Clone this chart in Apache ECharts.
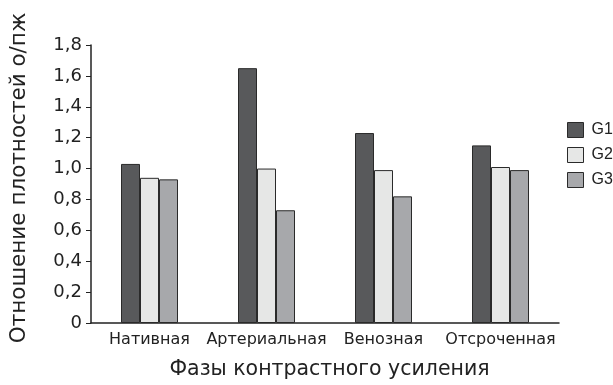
<!DOCTYPE html>
<html><head><meta charset="utf-8">
<script src="https://cdn.jsdelivr.net/npm/echarts@6/dist/echarts.min.js"></script>
<style>html,body{margin:0;padding:0;background:#fff}#c{width:613px;height:385px}</style>
</head><body><div id="c"></div>
<script>
const categories = ['Нативная', 'Артериальная', 'Венозная', 'Отсроченная'];
const g1 = [1.03, 1.65, 1.23, 1.15];
const g2 = [0.94, 1.00, 0.99, 1.01];
const g3 = [0.93, 0.73, 0.82, 0.99];
const seriesNames = ['G1', 'G2', 'G3'];
const yTicks = [0, 0.2, 0.4, 0.6, 0.8, 1.0, 1.2, 1.4, 1.6, 1.8];
const colors = ['#58595b', '#e6e7e6', '#a7a8ab'];
const font = 'DejaVu Sans, sans-serif';
const font2 = 'Liberation Sans, Arial, sans-serif';

const chart = echarts.init(document.getElementById('c'));
const mk = (name, data, i) => ({
  name, type: 'bar', data, barWidth: 19, barGap: '0%',
  itemStyle: { color: colors[i], borderColor: '#2a2a2a', borderWidth: 1 }
});
chart.setOption({
  animation: false,
  textStyle: { fontFamily: font },
  grid: { left: 91, right: 54, top: 45, bottom: 59 },
  legend: {
    orient: 'vertical', left: 562, top: 117, itemWidth: 16, itemHeight: 15, itemGap: 9,
    icon: 'rect', data: seriesNames,
    textStyle: { fontSize: 16, color: '#222', fontFamily: font2, padding: [0, 0, 0, 3] },
    itemStyle: { borderColor: '#2a2a2a', borderWidth: 1 }
  },
  graphic: [{
    type: 'text', x: 19, y: 178, rotation: Math.PI / 2,
    style: {
      text: 'Отношение плотностей о/пж', fontSize: 21.5, fontFamily: font, fill: '#222',
      align: 'center', verticalAlign: 'middle'
    }
  }],
  xAxis: {
    type: 'category', data: categories,
    name: 'Фазы контрастного усиления', nameLocation: 'middle', nameGap: 36,
    nameTextStyle: { fontSize: 20.5, color: '#222', fontFamily: font, padding: [0, 0, 0, 9] },
    axisLine: { lineStyle: { color: '#222', width: 1.5 } },
    axisTick: { show: false },
    axisLabel: { fontSize: 16, color: '#222', margin: 9, interval: 0, fontFamily: font }
  },
  yAxis: {
    type: 'value', min: 0, max: 1.8, interval: 0.2,
    axisLine: { show: true, lineStyle: { color: '#222', width: 1.5 } },
    axisTick: { show: true, length: 5, lineStyle: { color: '#222' } },
    splitLine: { show: false },
    axisLabel: {
      fontSize: 18, color: '#222', margin: 9, fontFamily: font,
      formatter: v => {
        const t = yTicks.find(x => Math.abs(x - v) < 1e-6);
        if (t === undefined) return '';
        return t === 0 ? '0' : t.toFixed(1).replace('.', ',');
      }
    }
  },
  series: [mk('G1', g1, 0), mk('G2', g2, 1), mk('G3', g3, 2)]
});
</script></body></html>
